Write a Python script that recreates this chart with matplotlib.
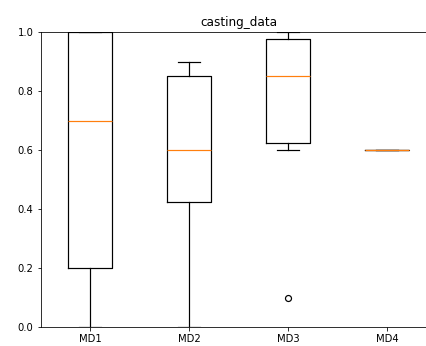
import matplotlib
matplotlib.use('Agg')
import matplotlib.pyplot as plt

labels = ['MD1', 'MD2', 'MD3', 'MD4']
md1 = [0.0, 0.2, 0.7, 1.0, 1.0]
md2 = [0.0, 0.425, 0.6, 0.85, 0.9]
md3 = [0.1, 0.6, 0.625, 0.7, 0.85, 0.9, 0.975, 1.0, 1.0]
md4 = [0.6, 0.6, 0.6, 0.6, 0.6]

W, H, dpi = 426, 346, 72
fig = plt.figure(figsize=(W / dpi, H / dpi), dpi=dpi)
ax = fig.add_axes([40.5 / W, 19 / H, 396 / W, 295 / H])

lw = 1.2
ax.boxplot([md1, md2, md3, md4], tick_labels=labels,
           boxprops=dict(linewidth=lw), whiskerprops=dict(linewidth=lw),
           capprops=dict(linewidth=lw), medianprops=dict(linewidth=lw),
           flierprops=dict(markersize=6, markeredgewidth=1.2))
ax.set_ylim(0, 1.0)
ax.set_title('casting_data', fontsize=12)

fig.savefig('out.png', dpi=dpi)
